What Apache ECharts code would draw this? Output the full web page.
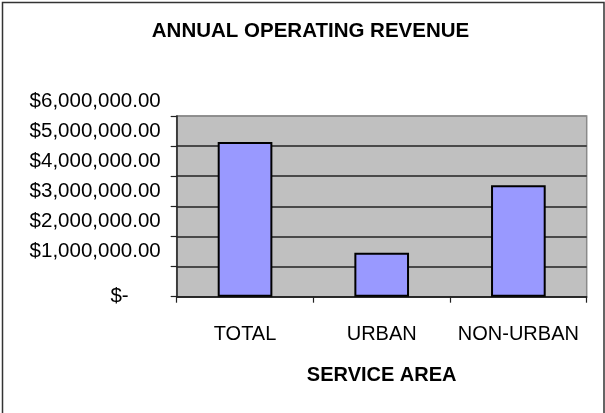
<!DOCTYPE html>
<html>
<head>
<meta charset="utf-8">
<script src="https://cdn.jsdelivr.net/npm/echarts@6/dist/echarts.min.js"></script>
<style>html,body{margin:0;padding:0;background:#fff;}#c{width:605px;height:413px;}</style>
</head>
<body>
<div id="c"></div>
<script>
const categories = ['TOTAL', 'URBAN', 'NON-URBAN'];
const revenue = [5140000, 1460000, 3700000];
const titleText = 'ANNUAL OPERATING REVENUE';
const xAxisName = 'SERVICE AREA';

function money(v) {
  if (v === 0) return '{z|$-}';
  const s = v.toFixed(2).replace(/\B(?=(\d{3})+(?!\d))/g, ',');
  return '{a|$' + s + '}';
}

const chart = echarts.init(document.getElementById('c'), null, {renderer: 'canvas'});
const font = 'Liberation Sans, Arial, sans-serif';
chart.setOption({
  backgroundColor: '#fff',
  animation: false,
  title: {
    text: titleText,
    left: 305.5,
    textAlign: 'center',
    top: 16,
    textStyle: {fontFamily: font, fontSize: 20.5, fontWeight: 'bold', color: '#000'}
  },
  graphic: [{
    type: 'rect',
    shape: {x: 2.5, y: 2.5, width: 601.5, height: 430},
    style: {fill: 'none', stroke: '#333', lineWidth: 1.5},
    silent: true
  }],
  grid: {
    left: 176.7, right: 18.3, top: 116, bottom: 116.3,
    show: true, backgroundColor: '#C0C0C0', borderColor: '#8a8a8a', borderWidth: 1.5
  },
  xAxis: {
    type: 'category',
    data: categories,
    name: xAxisName,
    nameLocation: 'middle',
    nameGap: 69,
    nameTextStyle: {fontFamily: font, fontSize: 20, fontWeight: 'bold', color: '#000'},
    axisLine: {lineStyle: {color: '#222', width: 1.5}},
    axisTick: {show: true, length: 6, lineStyle: {color: '#222', width: 1.2}},
    axisLabel: {fontFamily: font, fontSize: 20, color: '#000', margin: 28, interval: 0}
  },
  yAxis: {
    type: 'value',
    min: 0, max: 6000000, interval: 1000000,
    axisLine: {show: true, lineStyle: {color: '#222', width: 1.5}},
    axisTick: {show: true, length: 6, lineStyle: {color: '#222', width: 1.2}},
    splitLine: {show: true, lineStyle: {color: ['#222','#222','#222','#222','#222','#222','#8a8a8a'], width: 1.5}},
    axisLabel: {
      margin: 16,
      formatter: money,
      rich: {
        a: {fontFamily: font, fontSize: 20.5, color: '#000', padding: [0, 0, 30, 0]},
        z: {fontFamily: font, fontSize: 20.5, color: '#000', padding: [0, 32, 0, 0]}
      }
    }
  },
  series: [{
    type: 'bar',
    data: revenue,
    barWidth: '40%',
    itemStyle: {color: '#9999FF', borderColor: '#000', borderWidth: 2}
  }]
});
</script>
</body>
</html>
